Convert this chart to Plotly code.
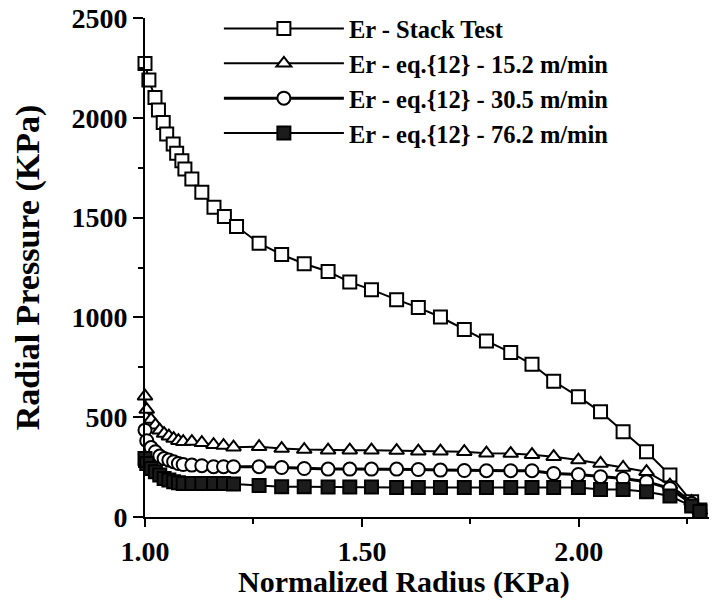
import plotly.graph_objects as go

# ---- data ----
radius_stack = [1.000, 1.009, 1.023, 1.031, 1.042, 1.050, 1.065, 1.073, 1.085, 1.092, 1.108, 1.131,
                1.159, 1.183, 1.211, 1.263, 1.315, 1.367, 1.422, 1.472, 1.522, 1.580, 1.630, 1.681,
                1.736, 1.787, 1.843, 1.892, 1.942, 1.999, 2.050, 2.102, 2.156, 2.210, 2.260, 2.279]
er_stack = [2272, 2189, 2102, 2039, 1977, 1919, 1869, 1822, 1785, 1744, 1694, 1627,
            1552, 1505, 1455, 1372, 1315, 1269, 1230, 1177, 1139, 1089, 1049, 1002,
            939, 882, 824, 765, 680, 603, 527, 427, 327, 210, 77, 35]

radius_eq = [1.000, 1.004, 1.014, 1.024, 1.034, 1.044, 1.055, 1.066, 1.077, 1.088, 1.108, 1.131,
             1.158, 1.181, 1.204, 1.263, 1.315, 1.367, 1.422, 1.472, 1.522, 1.580, 1.630, 1.681,
             1.736, 1.787, 1.843, 1.892, 1.942, 1.999, 2.050, 2.102, 2.156, 2.210, 2.260, 2.279]
er_15_2 = [605, 538, 488, 460, 435, 418, 405, 393, 382, 377, 378, 372,
           362, 358, 350, 352, 343, 338, 335, 335, 335, 333, 330, 330,
           327, 320, 318, 312, 302, 285, 268, 248, 227, 160, 77, 32]
er_30_5 = [435, 382, 348, 327, 305, 293, 285, 277, 268, 263, 260, 257,
           252, 252, 252, 252, 248, 243, 240, 240, 240, 240, 238, 235,
           233, 232, 232, 232, 218, 213, 202, 193, 177, 143, 68, 32]
er_76_2 = [293, 268, 243, 227, 210, 193, 185, 177, 172, 168, 168, 168,
           168, 168, 165, 158, 152, 152, 150, 150, 150, 148, 148, 148,
           148, 148, 148, 148, 148, 148, 138, 138, 127, 105, 55, 27]

x_ticks = [1.0, 1.5, 2.0]
x_ticktext = ["1.00", "1.50", "2.00"]
y_ticks = [0, 500, 1000, 1500, 2000, 2500]

names = ["Er - Stack Test", "Er - eq.{12} - 15.2 m/min",
         "Er - eq.{12} - 30.5 m/min", "Er - eq.{12} - 76.2 m/min"]
x_title = "Normalized Radius (KPa)"
y_title = "Radial Pressure (KPa)"

FONT = "Liberation Serif"

fig = go.Figure()
series = [
    (radius_stack, er_stack, "square", "white", 2),
    (radius_eq, er_15_2, "triangle-up", "white", 2),
    (radius_eq, er_30_5, "circle", "white", 3),
    (radius_eq, er_76_2, "square", "#1c1c1c", 2),
]
for i, (xv, yv, sym, fill, lw) in enumerate(series):
    fig.add_trace(go.Scatter(
        x=xv, y=yv, name=names[i], mode="lines+markers",
        legendgroup=str(i),
        line=dict(color="black", width=lw),
        marker=dict(symbol=sym, size=13, color=fill,
                    line=dict(color="black", width=2)),
        cliponaxis=False,
    ))

fig.add_annotation(text=x_title, xref="paper", yref="paper", x=0.459, y=-0.13,
                   xanchor="center", yanchor="middle", showarrow=False,
                   font=dict(family=FONT, size=30, color="black", weight="bold"))

fig.update_layout(
    width=718, height=609,
    margin=dict(l=145, r=9, t=18, b=92, autoexpand=False),
    paper_bgcolor="white", plot_bgcolor="white",
    font=dict(family=FONT, size=20, color="black", weight="bold"),
    showlegend=True,
    legend=dict(x=0.131, y=1.024, xanchor="left", yanchor="top",
                bgcolor="rgba(0,0,0,0)", itemwidth=120, tracegroupgap=0,
                font=dict(family=FONT, size=24.5, color="black", weight="bold"),
                itemclick=False),
    xaxis=dict(range=[1.0, 2.3], tickvals=x_ticks, ticktext=x_ticktext,
               showline=True, linecolor="black", linewidth=2, showgrid=False, zeroline=False,
               ticks="outside", ticklen=8, tickwidth=2, tickcolor="black",
               ticklabeloverflow="allow",
               minor=dict(tickvals=[1.25, 1.75, 2.25], ticks="outside", ticklen=5,
                          tickwidth=2, tickcolor="black"),
               tickfont=dict(family=FONT, size=28, weight="bold")),
    yaxis=dict(range=[0, 2500], tickvals=y_ticks,
               showline=True, linecolor="black", linewidth=2, showgrid=False, zeroline=False,
               ticks="outside", ticklen=10, tickwidth=2, tickcolor="black",
               ticklabeloverflow="allow",
               minor=dict(tickvals=[250, 750, 1250, 1750, 2250], ticks="outside", ticklen=5,
                          tickwidth=1.5, tickcolor="black"),
               tickfont=dict(family=FONT, size=28, weight="bold"),
               title=dict(text=y_title, standoff=22,
                          font=dict(family=FONT, size=34, weight="bold"))),
)

fig.write_html("out.html", config={"displayModeBar": False},
               post_script="document.body.style.margin='0';")
